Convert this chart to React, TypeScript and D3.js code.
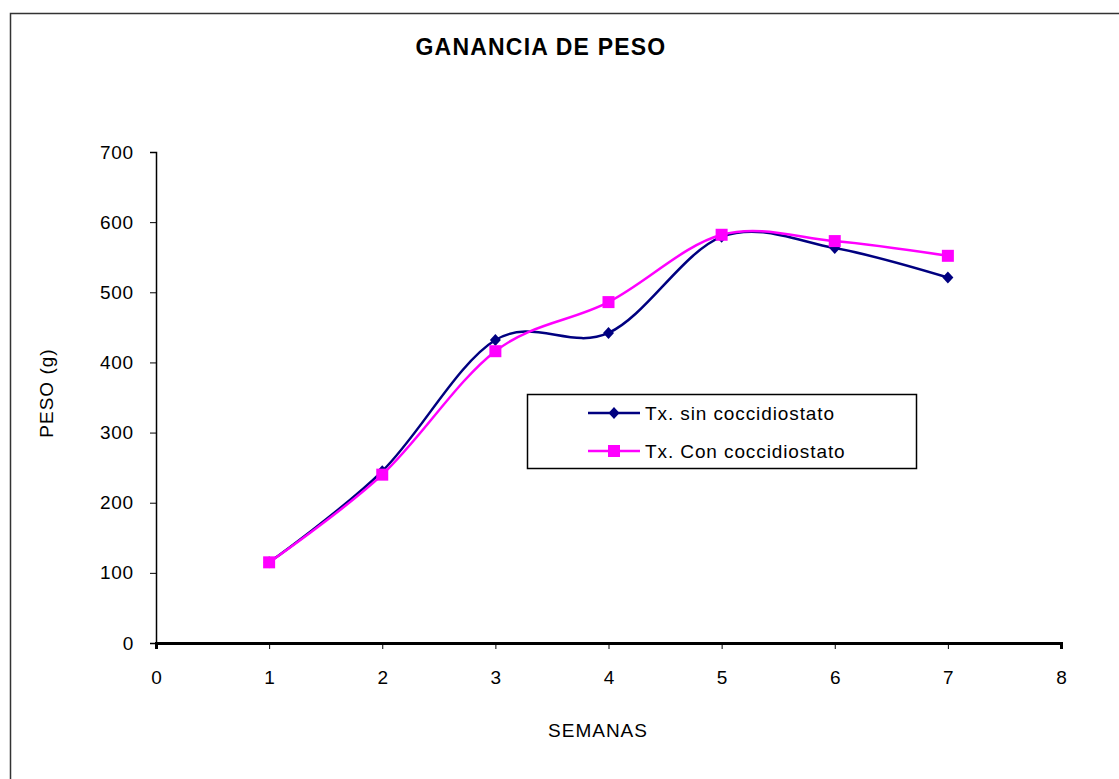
import React, { useRef, useEffect } from "react";
import * as d3 from "d3";

const semanas = [1, 2, 3, 4, 5, 6, 7];
const sinCoccidiostato = [115, 245, 432, 442, 579, 563, 521];
const conCoccidiostato = [115, 240, 416, 486, 582, 573, 552];
const seriesNames = ["Tx. sin coccidiostato", "Tx. Con coccidiostato"];
const xTicks = [0, 1, 2, 3, 4, 5, 6, 7, 8];
const yTicks = [0, 100, 200, 300, 400, 500, 600, 700];

const W = 1119;
const H = 779;
const m = { left: 156, right: 58, top: 152, bottom: 136 };
const font = "'Liberation Sans', Arial, sans-serif";

const App = () => {
    const ref = useRef<SVGSVGElement | null>(null);

    useEffect(() => {
        const svg = d3.select(ref.current);
        svg.selectAll("*").remove();

        const x = d3.scaleLinear().domain([0, 8]).range([m.left, W - m.right]);
        const y = d3.scaleLinear().domain([0, 700]).range([H - m.bottom, m.top]);

        // outer frame (cropped on right/bottom)
        svg.append("rect")
            .attr("x", 10.5)
            .attr("y", 13.5)
            .attr("width", 1200)
            .attr("height", 900)
            .attr("fill", "none")
            .attr("stroke", "#333")
            .attr("stroke-width", 1.5);

        svg.append("text")
            .attr("x", 541)
            .attr("y", 55)
            .attr("text-anchor", "middle")
            .attr("font-family", font)
            .attr("font-weight", "bold")
            .attr("font-size", 23)
            .attr("letter-spacing", 1.2)
            .text("GANANCIA DE PESO");

        // y axis
        const yAxis = svg.append("g")
            .attr("transform", `translate(${m.left},0)`)
            .call(d3.axisLeft(y).tickValues(yTicks).tickSize(6).tickPadding(16));
        yAxis.select(".domain").attr("stroke", "#000").attr("stroke-width", 1.5);
        yAxis.selectAll(".tick line").attr("stroke", "#000");
        yAxis.selectAll("text")
            .attr("font-family", font)
            .attr("font-size", 19)
            .attr("letter-spacing", 0.8)
            .attr("fill", "#000");

        // x axis
        const xAxis = svg.append("g")
            .attr("transform", `translate(0,${H - m.bottom})`)
            .call(d3.axisBottom(x).tickValues(xTicks).tickSize(6).tickPadding(22));
        xAxis.select(".domain").attr("stroke", "#000").attr("stroke-width", 3);
        xAxis.selectAll(".tick line").attr("stroke", "#000");
        xAxis.selectAll("text")
            .attr("font-family", font)
            .attr("font-size", 19)
            .attr("fill", "#000");

        svg.append("text")
            .attr("x", 598)
            .attr("y", 737)
            .attr("text-anchor", "middle")
            .attr("font-family", font)
            .attr("font-size", 19)
            .attr("letter-spacing", 1)
            .text("SEMANAS");

        svg.append("text")
            .attr("transform", "translate(53,393) rotate(-90)")
            .attr("text-anchor", "middle")
            .attr("font-family", font)
            .attr("font-size", 19)
            .attr("letter-spacing", 1)
            .text("PESO (g)");

        const line = d3
            .line<number>()
            .x((d, i) => x(semanas[i]))
            .y((d) => y(d))
            .curve(d3.curveCardinal.tension(0));

        const series = [
            { name: seriesNames[0], values: sinCoccidiostato, color: "#000080", marker: "diamond" },
            { name: seriesNames[1], values: conCoccidiostato, color: "#FF00FF", marker: "square" },
        ];

        const drawMarker = (g, kind, color, cx, cy) => {
            if (kind === "square") {
                g.append("rect")
                    .attr("x", cx - 6)
                    .attr("y", cy - 6)
                    .attr("width", 12)
                    .attr("height", 12)
                    .attr("fill", color);
            } else {
                g.append("path")
                    .attr("d", `M${cx},${cy - 6}L${cx + 5.5},${cy}L${cx},${cy + 6}L${cx - 5.5},${cy}Z`)
                    .attr("fill", color);
            }
        };

        series.forEach((s) => {
            svg.append("path")
                .datum(s.values)
                .attr("d", line)
                .attr("fill", "none")
                .attr("stroke", s.color)
                .attr("stroke-width", 2.5);
            const g = svg.append("g");
            s.values.forEach((v, i) => drawMarker(g, s.marker, s.color, x(semanas[i]), y(v)));
        });

        // legend
        const lg = svg.append("g");
        lg.append("rect")
            .attr("x", 527.5)
            .attr("y", 394.5)
            .attr("width", 389)
            .attr("height", 74)
            .attr("fill", "#fff")
            .attr("stroke", "#000")
            .attr("stroke-width", 1.5);
        series.forEach((s, i) => {
            const ly = 413 + i * 38;
            lg.append("line")
                .attr("x1", 588)
                .attr("x2", 640)
                .attr("y1", ly)
                .attr("y2", ly)
                .attr("stroke", s.color)
                .attr("stroke-width", 2.5);
            drawMarker(lg, s.marker, s.color, 614, ly);
            lg.append("text")
                .attr("x", 645)
                .attr("y", ly + 7)
                .attr("font-family", font)
                .attr("font-size", 19)
                .attr("letter-spacing", 0.9)
                .text(s.name);
        });
    }, []);

    return (
        <svg
            ref={ref}
            width={W}
            height={H}
            style={{ position: "absolute", left: 0, top: 0, background: "#fff" }}
        />
    );
};

export default App;
